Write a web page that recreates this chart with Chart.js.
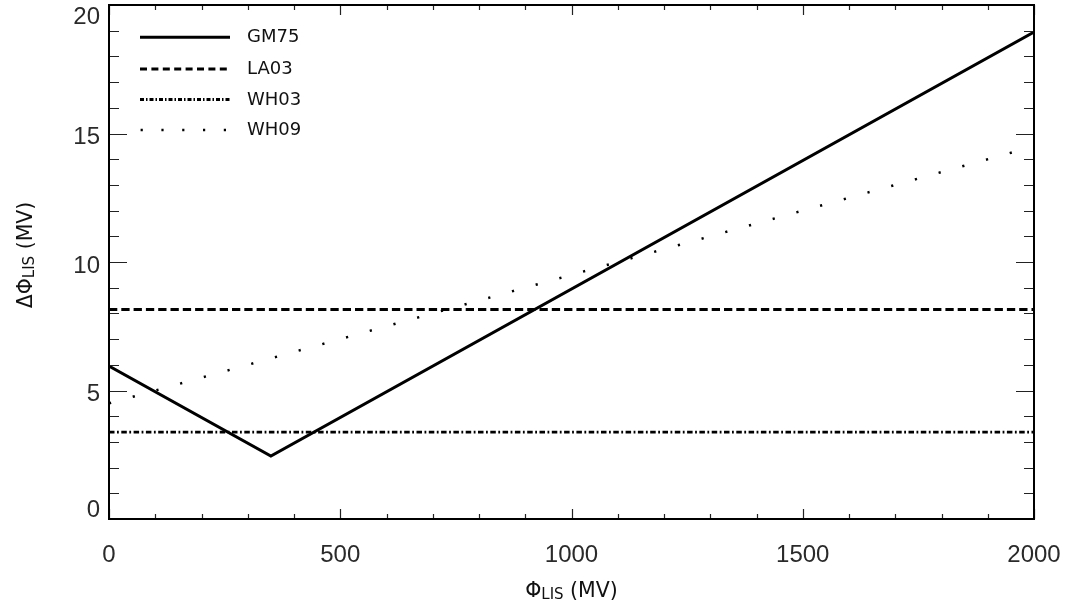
<!DOCTYPE html>
<html>
<head>
<meta charset="utf-8">
<script src="https://cdn.jsdelivr.net/npm/chart.js@4.4.1/dist/chart.umd.min.js"></script>
<style>
  html, body { margin: 0; padding: 0; background: #fff; }
  #wrap { width: 1067px; height: 606px; }
</style>
</head>
<body>
<div id="wrap"><canvas id="c" width="1067" height="606"></canvas></div>
<script>
// Modulation potential of the local interstellar spectrum (MV) vs. its uncertainty
const gm75Phi = [0, 350, 2000];
const gm75Delta = [5.95, 2.45, 18.95];

const la03Phi = [0, 2000];
const la03Delta = [8.15, 8.15];

const wh03Phi = [0, 2000];
const wh03Delta = [3.38, 3.38];

const wh09Phi = [0, 500, 1000, 1500, 2000];
const wh09Delta = [4.5, 7.0, 9.5, 12.0, 14.5];

const seriesNames = ['GM75', 'LA03', 'WH03', 'WH09'];

const xTicks = [0, 500, 1000, 1500, 2000];
const yTicks = [0, 5, 10, 15, 20];

const toPoints = (xs, ys) => xs.map((x, i) => ({ x: x, y: ys[i] }));

// Line styles per series: in-plot dash and the shorter legend dash
const styles = [
  { width: 3,   dash: [],                   legendDash: [] },
  { width: 3,   dash: [8.3, 4],             legendDash: [7, 4.4] },
  { width: 2.8, dash: [5.5, 2.5, 1.8, 2.5], legendDash: [4, 2, 1.5, 2] },
  { width: 2.5, dash: [2.2, 22.4],          legendDash: [2.2, 18.6] }
];

const dataPairs = [
  [gm75Phi, gm75Delta],
  [la03Phi, la03Delta],
  [wh03Phi, wh03Delta],
  [wh09Phi, wh09Delta]
];

const datasets = dataPairs.map((p, i) => ({
  label: seriesNames[i],
  data: toPoints(p[0], p[1]),
  showLine: true,
  borderColor: '#000',
  borderWidth: styles[i].width,
  borderDash: styles[i].dash,
  borderCapStyle: 'butt',
  borderJoinStyle: 'miter',
  pointRadius: 0,
  tension: 0,
  fill: false
}));

// Text with a subscript segment, laid out left-to-right around a centre
function drawRich(ctx, parts, cx, baseline) {
  let total = 0;
  parts.forEach(p => {
    ctx.font = p.size + 'px "DejaVu Sans"';
    p.w = ctx.measureText(p.t).width;
    total += p.w;
  });
  let x = cx - total / 2;
  ctx.textAlign = 'left';
  ctx.textBaseline = 'alphabetic';
  parts.forEach(p => {
    ctx.font = p.size + 'px "DejaVu Sans"';
    ctx.fillText(p.t, x, baseline + (p.dy || 0));
    x += p.w;
  });
}

const framePlugin = {
  id: 'frame',
  afterDatasetsDraw(chart) {
    const ctx = chart.ctx;
    const a = chart.chartArea;
    const xs = chart.scales.x;
    const ys = chart.scales.y;
    ctx.save();

    // tick marks on all four sides
    ctx.strokeStyle = '#222';
    ctx.lineWidth = 1.2;
    ctx.beginPath();
    for (let v = xs.min; v <= xs.max; v += 100) {
      const px = Math.round(xs.getPixelForValue(v)) + 0.5;
      const len = (v % 500 === 0) ? 10 : 5;
      ctx.moveTo(px, a.bottom); ctx.lineTo(px, a.bottom - len);
      ctx.moveTo(px, a.top); ctx.lineTo(px, a.top + len);
    }
    for (let v = ys.min; v <= ys.max; v += 1) {
      const py = Math.round(ys.getPixelForValue(v)) + 0.5;
      const len = (v % 5 === 0) ? 18 : 10;
      ctx.moveTo(a.left, py); ctx.lineTo(a.left + len, py);
      ctx.moveTo(a.right, py); ctx.lineTo(a.right - len, py);
    }
    ctx.stroke();

    // plot frame
    ctx.strokeStyle = '#000';
    ctx.lineWidth = 2;
    ctx.strokeRect(a.left, a.top, a.right - a.left, a.bottom - a.top);

    // tick labels
    ctx.fillStyle = '#2a2a2a';
    ctx.font = '24px "Liberation Sans", Arial, sans-serif';
    ctx.textAlign = 'center';
    ctx.textBaseline = 'middle';
    xTicks.forEach(v => {
      ctx.fillText(String(v), xs.getPixelForValue(v), a.bottom + 36);
    });
    ctx.textAlign = 'right';
    yTicks.forEach(v => {
      let py = ys.getPixelForValue(v) + 4;
      py = Math.min(Math.max(py, a.top + 12.5), a.bottom - 9);
      ctx.fillText(String(v), a.left - 9, py);
    });

    // axis titles
    ctx.fillStyle = '#111';
    drawRich(ctx, [
      { t: 'Φ', size: 20.5 },
      { t: 'LIS', size: 15, dy: 2 },
      { t: ' (MV)', size: 20.5 }
    ], (a.left + a.right) / 2, 596.5);

    ctx.save();
    ctx.translate(31.5, 255);
    ctx.rotate(-Math.PI / 2);
    drawRich(ctx, [
      { t: 'ΔΦ', size: 20.5 },
      { t: 'LIS', size: 15, dy: 2 },
      { t: ' (MV)', size: 20.5 }
    ], 0, 0);
    ctx.restore();

    // legend
    const rows = [37.3, 69, 99.5, 130];
    chart.data.datasets.forEach((ds, i) => {
      const y = rows[i];
      ctx.strokeStyle = '#000';
      ctx.lineWidth = styles[i].width;
      ctx.lineCap = 'butt';
      ctx.setLineDash(styles[i].legendDash);
      ctx.beginPath();
      ctx.moveTo(i === 3 ? 140.6 : 140, y);
      ctx.lineTo(230, y);
      ctx.stroke();
      ctx.setLineDash([]);
      ctx.fillStyle = '#111';
      ctx.font = '18px "DejaVu Sans"';
      ctx.textAlign = 'left';
      ctx.textBaseline = 'middle';
      ctx.fillText(ds.label, 247, y + 0.5);
    });

    ctx.restore();
  }
};

new Chart(document.getElementById('c'), {
  type: 'scatter',
  data: { datasets: datasets },
  options: {
    responsive: false,
    animation: false,
    layout: { padding: { left: 109, right: 33, top: 5, bottom: 87 } },
    plugins: { legend: { display: false }, tooltip: { enabled: false } },
    scales: {
      x: { type: 'linear', min: 0, max: 2000, display: false },
      y: { type: 'linear', min: 0, max: 20, display: false }
    }
  },
  plugins: [framePlugin]
});
</script>
</body>
</html>
